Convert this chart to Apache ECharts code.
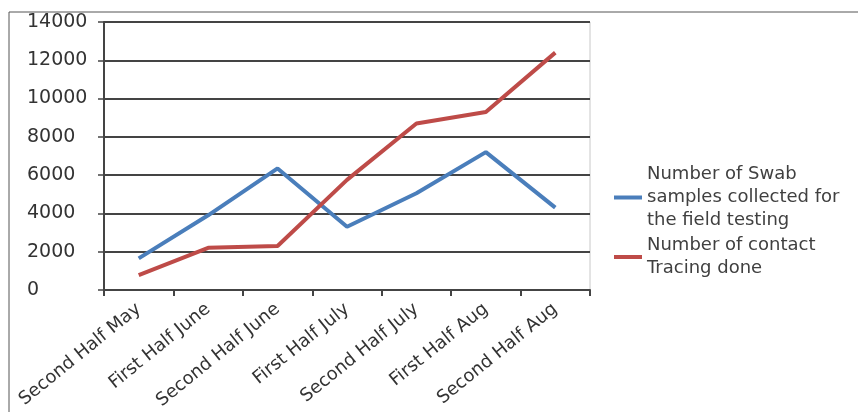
<!DOCTYPE html>
<html>
<head>
<meta charset="utf-8">
<script src="https://cdn.jsdelivr.net/npm/echarts@6/dist/echarts.min.js"></script>
<style>html,body{margin:0;padding:0;background:#fff;}#chart{width:858px;height:412px;}</style>
</head>
<body>
<div id="chart"></div>
<script>
const categories = ["Second Half May", "First Half June", "Second Half June", "First Half July", "Second Half July", "First Half Aug", "Second Half Aug"];
const swabSamples = [1650, 3900, 6350, 3300, 5050, 7200, 4300];
const contactTracing = [780, 2200, 2300, 5750, 8700, 9300, 12400];
const yTicks = [0, 2000, 4000, 6000, 8000, 10000, 12000, 14000];
const seriesNames = ["Number of Swab samples collected for the field testing", "Number of contact Tracing done"];
const legendLabels = {
  "Number of Swab samples collected for the field testing": "Number of Swab\nsamples collected for\nthe field testing",
  "Number of contact Tracing done": "Number of contact\nTracing done"
};

const FONT = "DejaVu Sans";
const chart = echarts.init(document.getElementById('chart'));
chart.setOption({
  animation: false,
  backgroundColor: '#ffffff',
  textStyle: { fontFamily: FONT },
  graphic: [{
    type: 'rect', silent: true,
    shape: { x: 9, y: 12, width: 900, height: 500 },
    style: { fill: 'none', stroke: '#555555', lineWidth: 1 }
  }],
  grid: {
    left: 104, right: 268, top: 22, bottom: 122,
    show: true, borderColor: '#c8c8c8', borderWidth: 1, backgroundColor: 'transparent'
  },
  legend: {
    orient: 'vertical',
    left: 609, top: 158,
    itemGap: 2,
    itemWidth: 28, itemHeight: 4,
    icon: 'rect',
    data: seriesNames,
    formatter: name => legendLabels[name],
    textStyle: { fontFamily: FONT, fontSize: 18, color: '#404040', lineHeight: 23 }
  },
  xAxis: {
    type: 'category',
    data: categories,
    boundaryGap: true,
    axisLine: { show: true, lineStyle: { color: '#444', width: 2 } },
    axisTick: { show: true, alignWithLabel: false, length: 6, lineStyle: { color: '#444', width: 2 } },
    axisLabel: { rotate: 39, fontFamily: FONT, fontSize: 18, color: '#333', margin: 17, interval: 0 },
    splitLine: { show: false }
  },
  yAxis: {
    type: 'value',
    min: yTicks[0], max: yTicks[yTicks.length - 1], interval: 2000,
    axisLine: { show: true, lineStyle: { color: '#444', width: 2 } },
    axisTick: { show: true, length: 6, lineStyle: { color: '#444', width: 1.5 } },
    axisLabel: { fontFamily: FONT, fontSize: 19, color: '#333', margin: 77, align: 'left', formatter: v => String(v) },
    splitLine: { show: true, lineStyle: { color: '#444', width: 2 } }
  },
  series: [
    {
      name: seriesNames[0], type: 'line', data: swabSamples,
      showSymbol: false, symbol: 'none',
      lineStyle: { color: '#4a7ebb', width: 4 }, itemStyle: { color: '#4a7ebb' }
    },
    {
      name: seriesNames[1], type: 'line', data: contactTracing,
      showSymbol: false, symbol: 'none',
      lineStyle: { color: '#be4b48', width: 4 }, itemStyle: { color: '#be4b48' }
    }
  ]
});
</script>
</body>
</html>
